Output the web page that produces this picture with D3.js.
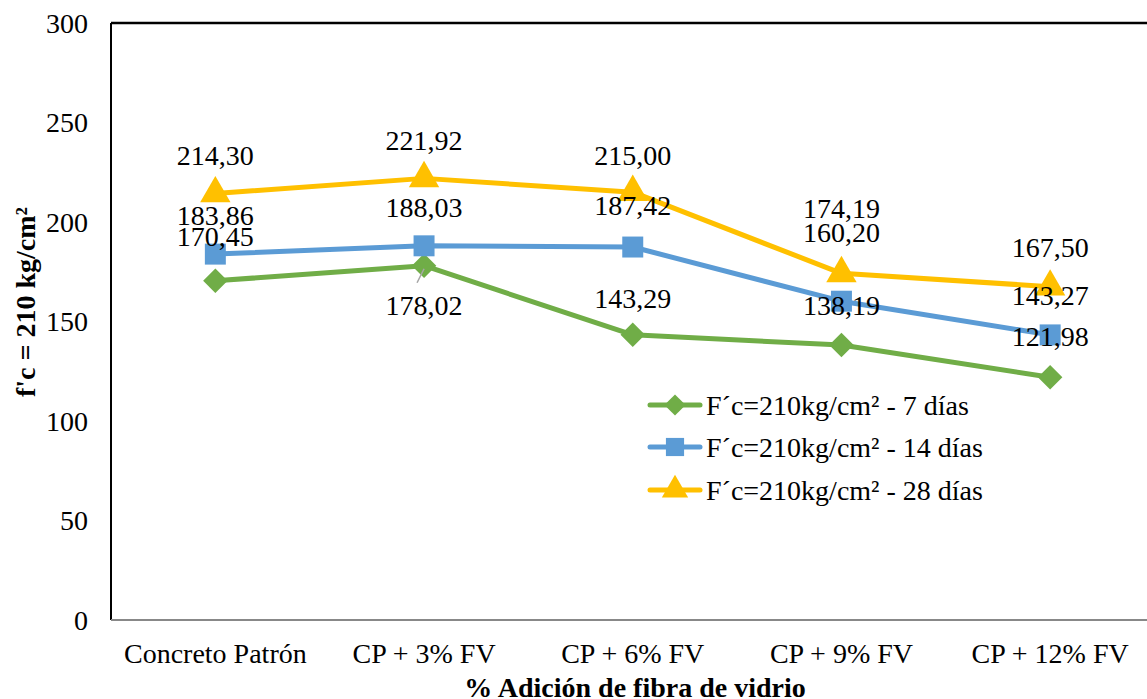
<!DOCTYPE html>
<html><head><meta charset="utf-8">
<script src="https://cdn.jsdelivr.net/npm/d3@7"></script>
<style>body{margin:0;background:#fff}</style>
</head><body><svg id="c" width="1147" height="699"></svg>
<script>
const categories = ["Concreto Patrón","CP + 3% FV","CP + 6% FV","CP + 9% FV","CP + 12% FV"];
const seriesNames = ["F´c=210kg/cm² - 7 días","F´c=210kg/cm² - 14 días","F´c=210kg/cm² - 28 días"];
const values7 = [170.45,178.02,143.29,138.19,121.98];
const values14 = [183.86,188.03,187.42,160.20,143.27];
const values28 = [214.30,221.92,215.00,174.19,167.50];
const yTicks = [0,50,100,150,200,250,300];

const colors = ["#70AD47","#5B9BD5","#FFC000"];
const shapes = [d3.symbolSquare, d3.symbolSquare, d3.symbolTriangle];
const allValues = [values7, values14, values28];
// label vertical offsets (layout only)
const labelDy = [[-45,39,-37,-40,-41],[-39,-39,-42,-69,-40],[-38,-38,-37,-65,-39]];

const svg = d3.select("#c");
const FF = "'Liberation Serif', 'Times New Roman', serif";
const FS = 28;
const L = 111, T = 23, B = 620, step = 208.7;
const x = d3.scaleBand().domain(categories).range([L, L + step*categories.length]);
const y = d3.scaleLinear().domain([0,300]).range([B, T]);
const cx = c => x(c) + x.bandwidth()/2;

// frame
svg.append("line").attr("x1",L).attr("x2",1147).attr("y1",T).attr("y2",T).attr("stroke","#000").attr("stroke-width",2.5);
svg.append("line").attr("x1",L).attr("x2",L).attr("y1",T).attr("y2",B).attr("stroke","#000").attr("stroke-width",2);
svg.append("line").attr("x1",L).attr("x2",1147).attr("y1",B).attr("y2",B).attr("stroke","#888").attr("stroke-width",2);

// y tick labels
svg.append("g").selectAll("text").data(yTicks).join("text")
  .attr("x",88).attr("y",d=>y(d)).attr("dy","0.35em").attr("text-anchor","end")
  .style("font-family",FF).attr("font-size",FS).text(d=>d);
// x tick labels
svg.append("g").selectAll("text").data(categories).join("text")
  .attr("x",d=>cx(d)).attr("y",653).attr("dy","0.35em").attr("text-anchor","middle")
  .style("font-family",FF).attr("font-size",FS).text(d=>d);

// axis titles
svg.append("text").attr("transform","translate(25,302) rotate(-90)").attr("text-anchor","middle").attr("dy","0.35em")
  .style("font-family",FF).attr("font-size",FS).attr("font-weight","bold").text("f'c = 210 kg/cm²");
svg.append("text").attr("x",635).attr("y",687).attr("dy","0.35em").attr("text-anchor","middle")
  .style("font-family",FF).attr("font-size",FS).attr("font-weight","bold").text("% Adición de fibra de vidrio");

const line = d3.line().x((d,i)=>cx(categories[i])).y(d=>y(d));
const symSizes = [300, 440, 400];

allValues.forEach((vals,s)=>{
  const g = svg.append("g");
  g.append("path").datum(vals).attr("d",line).attr("fill","none").attr("stroke",colors[s])
    .attr("stroke-width",5).attr("stroke-linejoin","round").attr("stroke-linecap","round");
  g.selectAll("path.m").data(vals).join("path").attr("class","m")
    .attr("transform",(d,i)=>`translate(${cx(categories[i])},${y(d)})` + (s===0?" rotate(45)":""))
    .attr("d",d3.symbol().type(shapes[s]).size(symSizes[s])).attr("fill",colors[s]);
});

// leader line for green point 2
svg.append("line").attr("x1",cx(categories[1])).attr("y1",y(values7[1])+3)
  .attr("x2",cx(categories[1])-7).attr("y2",y(values7[1])+17).attr("stroke","#a6a6a6").attr("stroke-width",1.5);

// data labels
const fmt = v => v.toFixed(2).replace(".",",");
allValues.forEach((vals,s)=>{
  svg.append("g").selectAll("text").data(vals).join("text")
    .attr("x",(d,i)=>cx(categories[i])).attr("y",(d,i)=>y(d)+labelDy[s][i]).attr("dy","0.35em")
    .attr("text-anchor","middle").style("font-family",FF).attr("font-size",FS).text(fmt);
});

// legend
const lg = svg.append("g");
const rows = [405,447,490];
seriesNames.forEach((n,s)=>{
  lg.append("line").attr("x1",650).attr("x2",700).attr("y1",rows[s]).attr("y2",rows[s])
    .attr("stroke",colors[s]).attr("stroke-width",5).attr("stroke-linecap","round");
  lg.append("path").attr("transform",`translate(675,${rows[s]})`+(s===0?" rotate(45)":""))
    .attr("d",d3.symbol().type(shapes[s]).size(symSizes[s]*0.75)).attr("fill",colors[s]);
  lg.append("text").attr("x",706).attr("y",rows[s]).attr("dy","0.35em").style("font-family",FF).attr("font-size",FS).text(n);
});
</script></body></html>
